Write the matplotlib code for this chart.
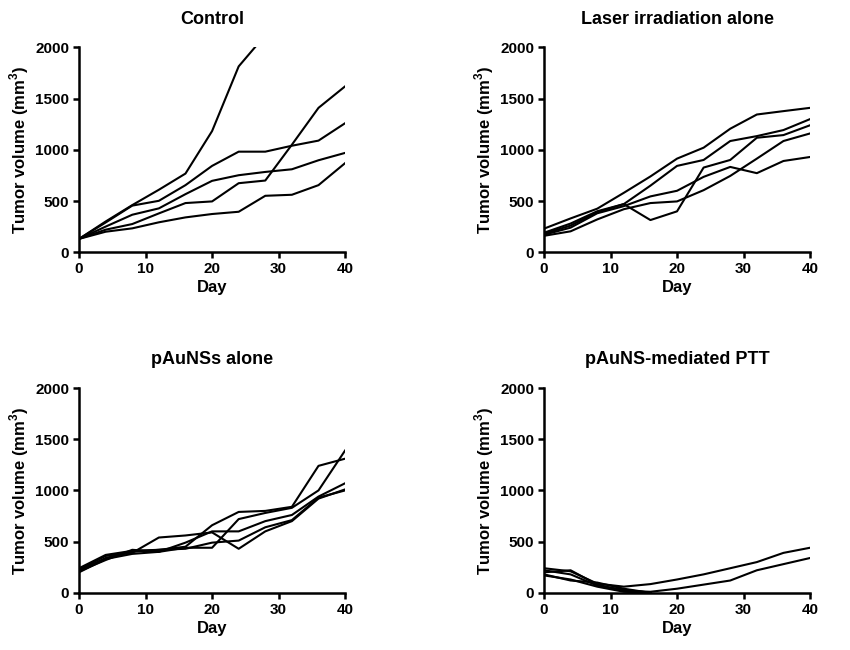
import matplotlib
matplotlib.use('Agg')
import matplotlib.pyplot as plt

plt.rcParams['font.family'] = ['Liberation Sans', 'DejaVu Sans']
plt.rcParams['font.weight'] = 'bold'
plt.rcParams['mathtext.fontset'] = 'custom'
plt.rcParams['mathtext.bf'] = 'Liberation Sans:bold'
plt.rcParams['mathtext.rm'] = 'Liberation Sans:bold'

# dias de medida
dias = [0, 4, 8, 12, 16, 20, 24, 28, 32, 36, 40]

# Control
ctrl_1 = [130, 300, 460, 610, 768, 1183, 1815, 2120]
ctrl_2 = [130, 290, 455, 502, 655, 843, 982, 982, 1040, 1090, 1260]
ctrl_3 = [130, 250, 366, 428, 567, 697, 752, 784, 810, 898, 970]
ctrl_4 = [130, 220, 275, 379, 480, 496, 674, 700, 1050, 1410, 1620]
ctrl_5 = [130, 200, 233, 292, 340, 373, 395, 551, 561, 655, 870]

# Laser irradiation alone
laser_1 = [230, 330, 425, 580, 740, 914, 1021, 1206, 1345, 1378, 1410]
laser_2 = [190, 280, 400, 470, 650, 843, 901, 1086, 1134, 1193, 1300]
laser_3 = [180, 260, 390, 470, 314, 399, 827, 901, 1118, 1144, 1240]
laser_4 = [170, 240, 380, 450, 545, 600, 736, 833, 772, 891, 930]
laser_5 = [160, 204, 320, 420, 480, 496, 606, 745, 914, 1086, 1160]

# pAuNSs alone
pau_1 = [230, 360, 390, 540, 560, 590, 430, 600, 700, 920, 1010]
pau_2 = [220, 340, 400, 420, 450, 660, 790, 800, 840, 1240, 1310]
pau_3 = [210, 320, 420, 400, 440, 440, 720, 780, 830, 1000, 1390]
pau_4 = [200, 330, 380, 400, 490, 600, 600, 700, 760, 940, 1070]
pau_5 = [240, 370, 410, 420, 430, 490, 510, 640, 710, 930, 1000]

# pAuNS-mediated PTT
ptt_1 = [240, 210, 90, 60, 85, 130, 180, 240, 300, 390, 440]
ptt_2 = [200, 220, 80, 20, 10, 40, 80, 120, 220, 280, 340]
ptt_3 = [220, 180, 70, 30, 0]
ptt_4 = [180, 120, 100, 40, 0]
ptt_5 = [170, 130, 60, 10, 0]

titulos = ['Control', 'Laser irradiation alone', 'pAuNSs alone', 'pAuNS-mediated PTT']
grupos = [
    [ctrl_1, ctrl_2, ctrl_3, ctrl_4, ctrl_5],
    [laser_1, laser_2, laser_3, laser_4, laser_5],
    [pau_1, pau_2, pau_3, pau_4, pau_5],
    [ptt_1, ptt_2, ptt_3, ptt_4, ptt_5],
]

fig = plt.figure(figsize=(8.5, 6.5), dpi=100)
posicoes = [
    [0.093, 0.612, 0.313, 0.315],
    [0.640, 0.612, 0.313, 0.315],
    [0.093, 0.088, 0.313, 0.315],
    [0.640, 0.088, 0.313, 0.315],
]

for pos, titulo, linhas in zip(posicoes, titulos, grupos):
    ax = fig.add_axes(pos)
    for y in linhas:
        ax.plot(dias[:len(y)], y, color='black', lw=1.5, clip_on=True)
    ax.set_xlim(0, 40)
    ax.set_ylim(0, 2000)
    ax.set_xticks([0, 10, 20, 30, 40])
    ax.set_yticks([0, 500, 1000, 1500, 2000])
    ax.spines['top'].set_visible(False)
    ax.spines['right'].set_visible(False)
    ax.spines['left'].set_linewidth(1.8)
    ax.spines['bottom'].set_linewidth(1.8)
    ax.tick_params(width=1.8, length=4, labelsize=11, pad=3)
    for lab in ax.get_xticklabels() + ax.get_yticklabels():
        lab.set_fontweight('bold')
    ax.set_title(titulo, fontsize=13, fontweight='bold', pad=17)
    ax.set_xlabel('Day', fontsize=12, fontweight='bold', labelpad=3)
    ax.set_ylabel(r'Tumor volume (mm$^{\mathbf{3}}$)', fontsize=12, fontweight='bold', labelpad=3)

fig.savefig('out.png', dpi=100)
